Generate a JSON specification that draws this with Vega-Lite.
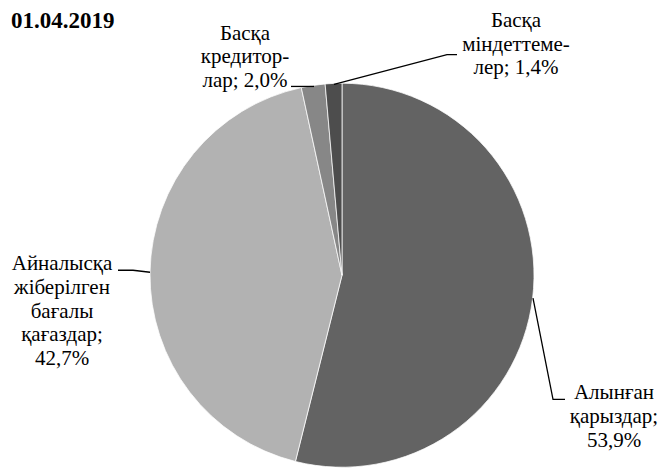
{
  "$schema": "https://vega.github.io/schema/vega-lite/v6.json",
  "width": 661,
  "height": 468,
  "autosize": {"type": "fit", "contains": "padding"},
  "padding": 0,
  "background": "white",
  "config": {"view": {"stroke": null}},
  "datasets": {
    "slices": [
      {"name": "Алынған қарыздар", "value": 53.9, "ord": 1},
      {"name": "Айналысқа жіберілген бағалы қағаздар", "value": 42.7, "ord": 2},
      {"name": "Басқа кредиторлар", "value": 2.0, "ord": 3},
      {"name": "Басқа міндеттемелер", "value": 1.4, "ord": 4}
    ],
    "leaders": [
      {"g": "k", "i": 1, "u": -26.56, "v": 98.96},
      {"g": "k", "i": 2, "u": -14.58, "v": 98.96},
      {"g": "m", "i": 1, "u": -4.17, "v": 100.0},
      {"g": "m", "i": 2, "u": 54.69, "v": 115.63},
      {"g": "m", "i": 3, "u": 59.9, "v": 115.63},
      {"g": "a", "i": 1, "u": -100.0, "v": 1.56},
      {"g": "a", "i": 2, "u": -108.85, "v": 2.6},
      {"g": "a", "i": 3, "u": -116.67, "v": 2.6},
      {"g": "l", "i": 1, "u": 99.48, "v": -11.98},
      {"g": "l", "i": 2, "u": 109.9, "v": -65.1},
      {"g": "l", "i": 3, "u": 116.15, "v": -65.1}
    ],
    "labels": [
      {"txt": "Басқа\nкредитор-\nлар; 2,0%", "u": -50.52, "v": 123.44},
      {"txt": "Басқа\nміндеттеме-\nлер; 1,4%", "u": 90.63, "v": 130.21},
      {"txt": "Айналысқа\nжіберілген\nбағалы\nқағаздар;\n42,7%", "u": -145.83, "v": 2.6},
      {"txt": "Алынған\nқарыздар;\n53,9%", "u": 141.67, "v": -65.1}
    ],
    "heading": [
      {"txt": "01.04.2019", "u": -172.4, "v": 129.69}
    ]
  },
  "layer": [
    {
      "data": {"name": "slices"},
      "mark": {"type": "arc", "outerRadius": 192, "stroke": "white", "strokeWidth": 0.75},
      "encoding": {
        "theta": {"field": "value", "type": "quantitative", "stack": true},
        "order": {"field": "ord", "type": "quantitative"},
        "color": {
          "field": "name",
          "type": "nominal",
          "scale": {
            "domain": ["Алынған қарыздар", "Айналысқа жіберілген бағалы қағаздар", "Басқа кредиторлар", "Басқа міндеттемелер"],
            "range": ["#636363", "#b2b2b2", "#878787", "#4d4d4d"]
          },
          "legend": null
        },
        "x": {"datum": 0, "type": "quantitative", "scale": {"domain": [-178.125, 166.146], "nice": false, "zero": false}, "axis": null},
        "y": {"datum": 0, "type": "quantitative", "scale": {"domain": [-99.479, 144.271], "nice": false, "zero": false}, "axis": null}
      }
    },
    {
      "data": {"name": "leaders"},
      "mark": {"type": "line", "color": "black", "strokeWidth": 1.3},
      "encoding": {
        "x": {"field": "u", "type": "quantitative"},
        "y": {"field": "v", "type": "quantitative"},
        "detail": {"field": "g", "type": "nominal"},
        "order": {"field": "i", "type": "quantitative"}
      }
    },
    {
      "data": {"name": "labels"},
      "mark": {"type": "text", "font": "Liberation Serif", "fontSize": 21, "lineHeight": 23.7, "lineBreak": "\n", "align": "center", "baseline": "alphabetic", "color": "black"},
      "encoding": {
        "x": {"field": "u", "type": "quantitative"},
        "y": {"field": "v", "type": "quantitative"},
        "text": {"field": "txt"}
      }
    },
    {
      "data": {"name": "heading"},
      "mark": {"type": "text", "font": "Liberation Serif", "fontSize": 23, "fontWeight": "bold", "align": "left", "baseline": "alphabetic", "color": "black"},
      "encoding": {
        "x": {"field": "u", "type": "quantitative"},
        "y": {"field": "v", "type": "quantitative"},
        "text": {"field": "txt"}
      }
    }
  ]
}
